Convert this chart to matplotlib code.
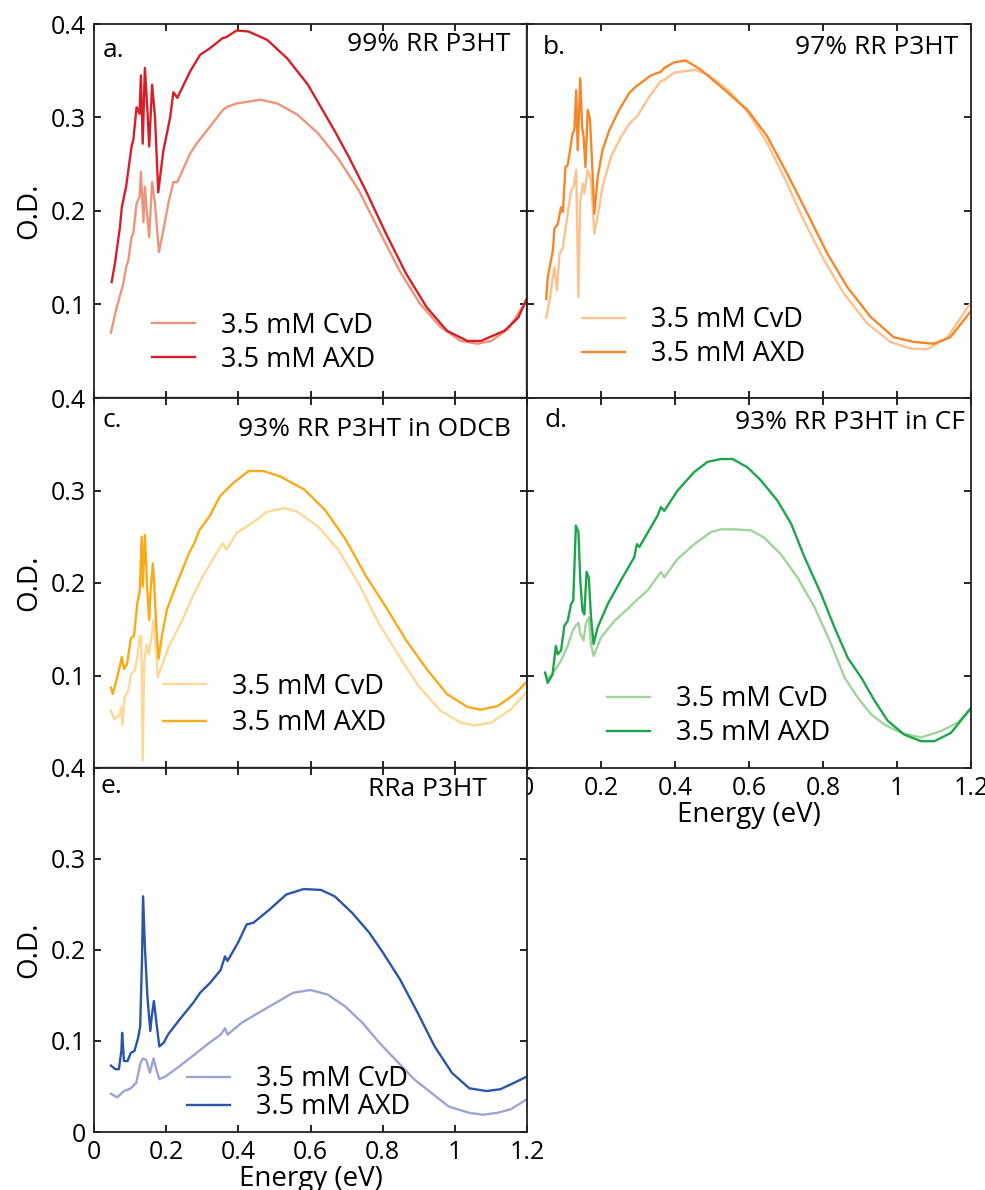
import matplotlib
matplotlib.use("Agg")
import matplotlib.pyplot as plt

plt.rcParams['font.family'] = ['Open Sans', 'DejaVu Sans']

# ---- data (energy in eV, optical density) ----
# a. 99% RR P3HT
a_cvd_e = [0.047, 0.061, 0.081, 0.089, 0.095, 0.104, 0.109, 0.118, 0.126, 0.130, 0.137, 0.141, 0.146,
           0.153, 0.161, 0.169, 0.180, 0.192, 0.206, 0.220, 0.231, 0.266, 0.284, 0.321, 0.357, 0.367,
           0.395, 0.428, 0.461, 0.508, 0.564, 0.621, 0.677, 0.734, 0.790, 0.847, 0.903, 0.960, 1.016,
           1.063, 1.101, 1.148, 1.199]
a_cvd_od = [0.070, 0.094, 0.122, 0.140, 0.147, 0.172, 0.176, 0.208, 0.215, 0.242, 0.188, 0.226, 0.201,
            0.172, 0.231, 0.208, 0.156, 0.179, 0.208, 0.231, 0.231, 0.261, 0.272, 0.290, 0.308, 0.311,
            0.315, 0.317, 0.319, 0.315, 0.303, 0.283, 0.256, 0.222, 0.179, 0.136, 0.101, 0.076, 0.061,
            0.058, 0.061, 0.074, 0.104]
a_axd_e = [0.049, 0.058, 0.072, 0.077, 0.089, 0.104, 0.109, 0.118, 0.126, 0.130, 0.135, 0.141, 0.148,
           0.153, 0.161, 0.169, 0.178, 0.192, 0.211, 0.220, 0.231, 0.266, 0.294, 0.321, 0.357, 0.367,
           0.395, 0.428, 0.480, 0.536, 0.593, 0.668, 0.706, 0.753, 0.809, 0.865, 0.922, 0.978, 1.035,
           1.072, 1.138, 1.176, 1.199]
a_axd_od = [0.124, 0.144, 0.183, 0.204, 0.226, 0.269, 0.276, 0.311, 0.304, 0.345, 0.272, 0.353, 0.308,
            0.269, 0.335, 0.301, 0.220, 0.264, 0.300, 0.327, 0.321, 0.349, 0.367, 0.374, 0.385, 0.386,
            0.393, 0.392, 0.383, 0.363, 0.335, 0.285, 0.258, 0.222, 0.176, 0.133, 0.097, 0.072, 0.061,
            0.061, 0.072, 0.086, 0.106]

# b. 97% RR P3HT
b_cvd_e = [0.052, 0.061, 0.074, 0.081, 0.088, 0.097, 0.110, 0.119, 0.126, 0.133, 0.139, 0.144, 0.151,
           0.155, 0.164, 0.173, 0.182, 0.191, 0.204, 0.227, 0.254, 0.276, 0.299, 0.330, 0.362, 0.371,
           0.398, 0.452, 0.488, 0.542, 0.596, 0.649, 0.694, 0.748, 0.802, 0.856, 0.919, 0.982, 1.036,
           1.081, 1.135, 1.198]
b_cvd_od = [0.086, 0.104, 0.140, 0.115, 0.154, 0.161, 0.197, 0.222, 0.226, 0.244, 0.108, 0.211, 0.229,
            0.219, 0.244, 0.233, 0.176, 0.194, 0.226, 0.258, 0.279, 0.293, 0.302, 0.322, 0.339, 0.340,
            0.348, 0.351, 0.346, 0.330, 0.306, 0.273, 0.237, 0.190, 0.148, 0.112, 0.080, 0.060, 0.053,
            0.052, 0.064, 0.101]
b_axd_e = [0.052, 0.056, 0.070, 0.074, 0.083, 0.092, 0.097, 0.104, 0.110, 0.119, 0.124, 0.128, 0.133,
           0.137, 0.144, 0.149, 0.153, 0.158, 0.164, 0.170, 0.176, 0.182, 0.191, 0.204, 0.222, 0.249,
           0.276, 0.294, 0.335, 0.362, 0.371, 0.398, 0.429, 0.470, 0.524, 0.596, 0.649, 0.703, 0.757,
           0.811, 0.865, 0.928, 0.991, 1.045, 1.099, 1.144, 1.198]
b_axd_od = [0.106, 0.129, 0.158, 0.181, 0.186, 0.204, 0.199, 0.247, 0.249, 0.272, 0.284, 0.286, 0.329,
            0.265, 0.342, 0.290, 0.279, 0.247, 0.308, 0.299, 0.251, 0.197, 0.236, 0.265, 0.286, 0.308,
            0.326, 0.333, 0.345, 0.349, 0.353, 0.359, 0.361, 0.351, 0.333, 0.308, 0.280, 0.240, 0.198,
            0.155, 0.119, 0.087, 0.065, 0.060, 0.058, 0.065, 0.092]

# c. 93% RR P3HT in ODCB
c_cvd_e = [0.047, 0.056, 0.071, 0.075, 0.079, 0.085, 0.094, 0.103, 0.113, 0.120, 0.127, 0.131, 0.135,
           0.139, 0.146, 0.152, 0.158, 0.165, 0.169, 0.177, 0.183, 0.207, 0.245, 0.273, 0.301, 0.339,
           0.357, 0.367, 0.395, 0.442, 0.480, 0.527, 0.564, 0.621, 0.677, 0.734, 0.790, 0.847, 0.903,
           0.960, 1.016, 1.054, 1.101, 1.157, 1.199]
c_cvd_od = [0.062, 0.053, 0.057, 0.066, 0.046, 0.077, 0.082, 0.102, 0.105, 0.120, 0.143, 0.142, 0.008,
            0.113, 0.134, 0.123, 0.138, 0.160, 0.140, 0.098, 0.105, 0.131, 0.160, 0.185, 0.207, 0.232,
            0.243, 0.236, 0.254, 0.266, 0.277, 0.281, 0.277, 0.261, 0.236, 0.199, 0.156, 0.120, 0.087,
            0.062, 0.049, 0.046, 0.049, 0.064, 0.082]
c_axd_e = [0.047, 0.052, 0.061, 0.071, 0.077, 0.083, 0.092, 0.102, 0.111, 0.120, 0.127, 0.132, 0.135,
           0.141, 0.147, 0.153, 0.157, 0.163, 0.167, 0.172, 0.179, 0.188, 0.202, 0.226, 0.263, 0.278,
           0.292, 0.320, 0.348, 0.357, 0.386, 0.428, 0.470, 0.517, 0.583, 0.640, 0.696, 0.753, 0.809,
           0.865, 0.922, 0.978, 1.035, 1.072, 1.119, 1.166, 1.199]
c_axd_od = [0.087, 0.080, 0.093, 0.109, 0.120, 0.107, 0.113, 0.140, 0.143, 0.178, 0.192, 0.250, 0.196,
            0.252, 0.196, 0.160, 0.192, 0.221, 0.199, 0.156, 0.118, 0.142, 0.171, 0.196, 0.232, 0.243,
            0.257, 0.272, 0.293, 0.297, 0.308, 0.321, 0.321, 0.315, 0.301, 0.279, 0.248, 0.208, 0.174,
            0.138, 0.107, 0.080, 0.066, 0.063, 0.067, 0.080, 0.093]

# d. 93% RR P3HT in CF
d_cvd_e = [0.049, 0.056, 0.074, 0.092, 0.110, 0.123, 0.132, 0.139, 0.144, 0.153, 0.159, 0.167, 0.173,
           0.180, 0.200, 0.236, 0.272, 0.295, 0.326, 0.362, 0.371, 0.407, 0.452, 0.497, 0.524, 0.560,
           0.605, 0.641, 0.686, 0.731, 0.777, 0.822, 0.858, 0.894, 0.930, 0.966, 1.011, 1.065, 1.119,
           1.164, 1.200]
d_cvd_od = [0.103, 0.096, 0.105, 0.116, 0.132, 0.148, 0.154, 0.157, 0.145, 0.138, 0.156, 0.163, 0.134,
            0.121, 0.141, 0.159, 0.172, 0.181, 0.192, 0.212, 0.206, 0.226, 0.242, 0.255, 0.258, 0.258,
            0.257, 0.249, 0.231, 0.206, 0.174, 0.134, 0.098, 0.076, 0.058, 0.047, 0.038, 0.033, 0.040,
            0.049, 0.064]
d_axd_e = [0.049, 0.056, 0.069, 0.078, 0.083, 0.092, 0.101, 0.110, 0.119, 0.125, 0.132, 0.139, 0.144,
           0.150, 0.155, 0.161, 0.167, 0.173, 0.180, 0.191, 0.218, 0.254, 0.290, 0.297, 0.304, 0.353,
           0.362, 0.371, 0.407, 0.452, 0.488, 0.524, 0.556, 0.596, 0.632, 0.677, 0.714, 0.750, 0.795,
           0.831, 0.867, 0.903, 0.939, 0.975, 1.020, 1.065, 1.101, 1.146, 1.200]
d_axd_od = [0.103, 0.092, 0.101, 0.132, 0.123, 0.127, 0.154, 0.159, 0.177, 0.181, 0.262, 0.255, 0.203,
            0.170, 0.166, 0.212, 0.206, 0.163, 0.134, 0.152, 0.177, 0.203, 0.228, 0.242, 0.239, 0.273,
            0.282, 0.278, 0.300, 0.320, 0.331, 0.334, 0.334, 0.325, 0.311, 0.289, 0.264, 0.228, 0.188,
            0.152, 0.119, 0.098, 0.073, 0.051, 0.036, 0.029, 0.029, 0.038, 0.065]

# e. RRa P3HT
e_cvd_e = [0.047, 0.064, 0.083, 0.102, 0.117, 0.129, 0.136, 0.145, 0.155, 0.165, 0.174, 0.181, 0.198,
           0.236, 0.275, 0.313, 0.351, 0.363, 0.370, 0.409, 0.456, 0.504, 0.552, 0.600, 0.648, 0.696,
           0.744, 0.791, 0.839, 0.887, 0.935, 0.983, 1.040, 1.078, 1.117, 1.155, 1.200]
e_cvd_od = [0.042, 0.038, 0.045, 0.048, 0.054, 0.076, 0.081, 0.079, 0.065, 0.081, 0.067, 0.058, 0.061,
            0.072, 0.084, 0.096, 0.107, 0.114, 0.107, 0.120, 0.131, 0.142, 0.153, 0.156, 0.151, 0.138,
            0.120, 0.098, 0.078, 0.058, 0.043, 0.028, 0.021, 0.019, 0.021, 0.025, 0.036]
e_axd_e = [0.047, 0.059, 0.069, 0.076, 0.078, 0.083, 0.093, 0.102, 0.112, 0.122, 0.128, 0.133, 0.136,
           0.141, 0.148, 0.156, 0.160, 0.166, 0.171, 0.181, 0.193, 0.205, 0.236, 0.275, 0.294, 0.322,
           0.351, 0.363, 0.370, 0.399, 0.423, 0.442, 0.485, 0.533, 0.581, 0.629, 0.667, 0.715, 0.763,
           0.801, 0.849, 0.897, 0.944, 0.992, 1.040, 1.088, 1.126, 1.164, 1.200]
e_axd_od = [0.073, 0.069, 0.069, 0.090, 0.109, 0.078, 0.078, 0.087, 0.089, 0.103, 0.116, 0.189, 0.259,
            0.204, 0.149, 0.111, 0.127, 0.144, 0.127, 0.094, 0.098, 0.107, 0.123, 0.142, 0.153, 0.164,
            0.178, 0.193, 0.188, 0.208, 0.228, 0.230, 0.244, 0.261, 0.267, 0.266, 0.259, 0.241, 0.219,
            0.197, 0.167, 0.131, 0.094, 0.065, 0.048, 0.045, 0.047, 0.054, 0.061]

labels = ['3.5 mM CvD', '3.5 mM AXD']
x_ticks = [0, 0.2, 0.4, 0.6, 0.8, 1.0, 1.2]
x_ticklabels = ['0', '0.2', '0.4', '0.6', '0.8', '1', '1.2']
y_ticks = [0, 0.1, 0.2, 0.3, 0.4]

W, H = 985, 1190
fig = plt.figure(figsize=(W / 100, H / 100), dpi=100)


def box(l, r, t, b):
    return [l / W, 1 - b / H, (r - l) / W, (b - t) / H]


panels = [
    dict(rect=box(94, 527, 24, 398), letter='a.', title='99% RR P3HT',
         cvd=(a_cvd_e, a_cvd_od), axd=(a_axd_e, a_axd_od), cols=('#eb967c', '#d3202a'),
         leg=(0.134, 0.065), ls=0.22, tpos=(0.962, 0.944), lpos=(0.02, 0.93)),
    dict(rect=box(527, 971, 24, 398), letter='b.', title='97% RR P3HT',
         cvd=(b_cvd_e, b_cvd_od), axd=(b_axd_e, b_axd_od), cols=('#fdc28e', '#f4872a'),
         leg=(0.124, 0.08), ls=0.22, tpos=(0.972, 0.936), lpos=(0.036, 0.936)),
    dict(rect=box(94, 527, 398, 768), letter='c.', title='93% RR P3HT in ODCB',
         cvd=(c_cvd_e, c_cvd_od), axd=(c_axd_e, c_axd_od), cols=('#fed896', '#f8ab18'),
         leg=(0.159, 0.083), ls=0.32, tpos=(0.962, 0.914), lpos=(0.02, 0.94)),
    dict(rect=box(527, 971, 398, 768), letter='d.', title='93% RR P3HT in CF',
         cvd=(d_cvd_e, d_cvd_od), axd=(d_axd_e, d_axd_od), cols=('#a1d39c', '#1ea54b'),
         leg=(0.18, 0.056), ls=0.22, tpos=(0.986, 0.935), lpos=(0.04, 0.94)),
    dict(rect=box(94, 527, 768, 1132), letter='e.', title='RRa P3HT',
         cvd=(e_cvd_e, e_cvd_od), axd=(e_axd_e, e_axd_od), cols=('#9da3d5', '#2b56a8'),
         leg=(0.215, 0.03), ls=0.0, tpos=(0.908, 0.94), lpos=(0.015, 0.948)),
]

axes = []
for i, p in enumerate(panels):
    ax = fig.add_axes(p['rect'])
    axes.append(ax)
    ax.plot(*p['cvd'], color=p['cols'][0], lw=1.7, label=labels[0])
    ax.plot(*p['axd'], color=p['cols'][1], lw=1.7, label=labels[1])
    ax.set_xlim(0, 1.2)
    ax.set_ylim(0, 0.4)
    ax.set_xticks(x_ticks)
    ax.set_yticks(y_ticks)
    ax.tick_params(direction='in', top=True, right=True, length=5, width=1.2,
                   labelsize=18, pad=6)
    for s in ax.spines.values():
        s.set_linewidth(1.3)
        s.set_color('#222222')
    ax.text(*p['lpos'], p['letter'], transform=ax.transAxes, fontsize=19,
            ha='left', va='center')
    ax.text(*p['tpos'], p['title'], transform=ax.transAxes, fontsize=19,
            ha='right', va='center')
    ax.legend(loc='lower left', bbox_to_anchor=p['leg'], frameon=False, fontsize=19.5,
              handlelength=1.6, handletextpad=0.95, labelspacing=p['ls'],
              borderaxespad=0, borderpad=0)

    # tick labels only on the outer edges
    if i in (0, 2, 4):
        ylabs = ['0' if i == 4 else '', '0.1', '0.2', '0.3', '0.4']
        ax.set_yticklabels(ylabs)
        ax.set_ylabel('O.D.', fontsize=20, labelpad=5)
    else:
        ax.set_yticklabels([])
    if i in (3, 4):
        ax.set_xticklabels(x_ticklabels)
        ax.set_xlabel('Energy (eV)', fontsize=20, labelpad=0)
    else:
        ax.set_xticklabels([])

# heavier joins where two frames meet
axes[0].spines['bottom'].set_linewidth(2.4)
axes[0].spines['right'].set_linewidth(2.4)
axes[2].spines['bottom'].set_linewidth(2.4)

fig.savefig('out.png', dpi=100)
